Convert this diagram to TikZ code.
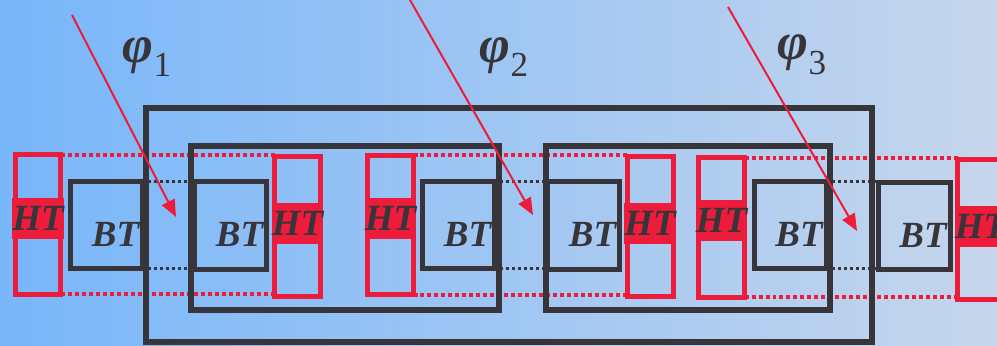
\documentclass[tikz,border=0pt]{standalone}
\usepackage{amsmath}
\usepackage{fontspec}
\setmainfont{Liberation Serif}
\usetikzlibrary{arrows.meta, calc}

\definecolor{htred}{RGB}{236,28,58}
\definecolor{linegray}{RGB}{55,52,58}
\definecolor{bgleft}{RGB}{120,182,250}
\definecolor{bgright}{RGB}{198,214,236}

\newcommand{\phisub}[1]{{\bfseries\itshape φ}\raisebox{-0.28em}{\fontsize{20}{22}\selectfont #1}}

\begin{document}
\begin{tikzpicture}[
x=0.02cm, y=-0.02cm,
celltext/.style={text=linegray, font=\fontsize{21}{24}\selectfont\bfseries\itshape, inner sep=0pt},
frame/.style={draw=linegray, line width=0.12cm, inner sep=0pt, outer sep=0pt},
btbox/.style={draw=linegray, line width=0.1cm, minimum width=1.44cm, minimum height=1.76cm,
inner sep=0pt, outer sep=0pt, label={[celltext, xshift=0.18cm, yshift=-0.18cm]center:BT}},
htbox/.style={draw=htred, line width=0.1cm, minimum width=0.92cm, minimum height=2.8cm,
inner sep=0pt, outer sep=0pt},
htband/.style={fill=htred, minimum width=1.02cm, minimum height=0.82cm, celltext},
reddot/.style={draw=htred, line width=0.08cm, dash pattern=on 0.08cm off 0.06cm},
blackdot/.style={draw=linegray, line width=0.06cm, dash pattern=on 0.06cm off 0.06cm},
redarr/.style={draw=htred, line width=0.04cm, -{Triangle[length=0.34cm, width=0.28cm]}},
philabel/.style={text=linegray, font=\fontsize{30}{34}\selectfont}
]
\useasboundingbox (0,0) rectangle (997,345);
\clip (0,0) rectangle (997,345);
\fill[left color=bgleft, right color=bgright] (0,0) rectangle (997,345);

% cells
\node[btbox] (bt1) at (106.5,225) {};
\node[btbox] (bt2) at (230.5,225.5) {};
\node[btbox] (bt3) at (458.5,225) {};
\node[btbox] (bt4) at (583.5,225.5) {};
\node[btbox] (bt5) at (790,225) {};
\node[btbox] (bt6) at (914,226) {};

\node[htbox] (ht1) at (38,224.5) {};
\node[htbox] (ht2) at (297.5,226.5) {};
\node[htbox] (ht3) at (390.5,225) {};
\node[htbox] (ht4) at (650,226.5) {};
\node[htbox] (ht5) at (721.5,227.5) {};
\node[htbox] (ht6) at (980.5,229.5) {};

\node[htband] (hb1) at ([yshift=0.13cm]ht1.center) {HT};
\node[htband] (hb2) at ([yshift=0.06cm]ht2.center) {HT};
\node[htband] (hb3) at ([yshift=0.13cm]ht3.center) {HT};
\node[htband] (hb4) at ([yshift=0.06cm]ht4.center) {HT};
\node[htband] (hb5) at ([yshift=0.15cm]ht5.center) {HT};
\node[htband] (hb6) at ([yshift=0.06cm]ht6.center) {HT};

% dotted links
\draw[reddot] (ht1.north east) -- (ht1.north east -| ht2.west);
\draw[reddot] (ht1.south east) -- (ht1.south east -| ht2.west);
\draw[reddot] (ht3.north east) -- (ht3.north east -| ht4.west);
\draw[reddot] (ht3.south east) -- (ht3.south east -| ht4.west);
\draw[reddot] (ht5.north east) -- (ht5.north east -| ht6.west);
\draw[reddot] (ht5.south east) -- (ht5.south east -| ht6.west);

\draw[blackdot] (bt1.north east) -- (bt1.north east -| bt2.west);
\draw[blackdot] (bt1.south east) -- (bt1.south east -| bt2.west);
\draw[blackdot] (bt3.north east) -- (bt3.north east -| bt4.west);
\draw[blackdot] (bt3.south east) -- (bt3.south east -| bt4.west);
\draw[blackdot] (bt5.north east) -- (bt5.north east -| bt6.west);
\draw[blackdot] (bt5.south east) -- (bt5.south east -| bt6.west);

% frames
\node[frame, minimum width=14.52cm, minimum height=4.68cm] (outer) at (509,225) {};
\node[frame, minimum width=6.18cm, minimum height=3.27cm] (inner1) at (345,228) {};
\node[frame, minimum width=5.7cm, minimum height=3.27cm] (inner2) at (688,228) {};

% phase labels and arrows
\node[philabel] (phi1) at (147,57) {\phisub{1}};
\node[philabel] (phi2) at (504,57) {\phisub{2}};
\node[philabel] (phi3) at (802,55) {\phisub{3}};

\coordinate (s1) at (72,15);
\coordinate (e1) at (176,217);
\coordinate (s2) at (406,-7);
\coordinate (e2) at (533,215);
\coordinate (s3) at (728,7);
\coordinate (e3) at (857,231);
\draw[redarr] (s1) -- (e1);
\draw[redarr] (s2) -- (e2);
\draw[redarr] (s3) -- (e3);
\end{tikzpicture}
\end{document}
